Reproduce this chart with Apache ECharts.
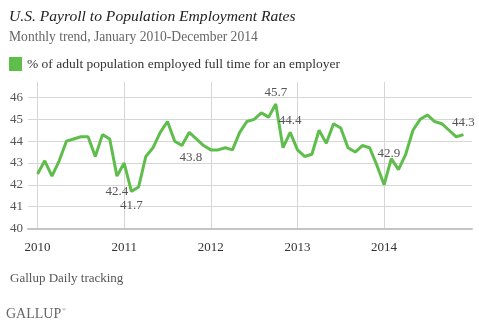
<!DOCTYPE html>
<html>
<head>
<meta charset="utf-8">
<script src="https://cdn.jsdelivr.net/npm/echarts@6/dist/echarts.min.js"></script>
<style>
html,body{margin:0;padding:0;background:#fff;}
#chart{width:479px;height:324px;}
</style>
</head>
<body>
<div id="chart"></div>
<script>
// Monthly values, January 2010 - December 2014 (index 0 = Jan 2010)
var values = [
  42.5, 43.1, 42.4, 43.1, 44.0, 44.1, 44.2, 44.2, 43.3, 44.3, 44.1, 42.4,
  43.0, 41.7, 41.9, 43.3, 43.7, 44.4, 44.9, 44.0, 43.8, 44.4, 44.1, 43.8,
  43.6, 43.6, 43.7, 43.6, 44.4, 44.9, 45.0, 45.3, 45.1, 45.7, 43.7, 44.4,
  43.6, 43.3, 43.4, 44.5, 43.9, 44.8, 44.6, 43.7, 43.5, 43.8, 43.7, 42.9,
  42.0, 43.2, 42.7, 43.4, 44.5, 45.0, 45.2, 44.9, 44.8, 44.5, 44.2, 44.3
];
var yearLabels = ['2010', '2011', '2012', '2013', '2014'];
var yearTicks = [0, 12, 24, 36, 48];
var yTicks = [40, 41, 42, 43, 44, 45, 46];
var labeledIdx = [11, 13, 20, 33, 35, 47, 59];

var seriesName = '% of adult population employed full time for an employer';
var serif = '"Liberation Serif", "DejaVu Serif", serif';
var green = '#5fbe4b';

// label placement (style only)
var labelOffsets = {
  11: [0, 15], 13: [0, 14], 20: [9, 12], 33: [0, -11.5],
  35: [0, -11.5], 47: [12, -12], 59: [0, -12.5]
};

var data = values.map(function (v, i) {
  var item = { value: [i, v] };
  if (labeledIdx.indexOf(i) >= 0) {
    item.label = {
      show: true,
      position: 'inside',
      offset: labelOffsets[i],
      formatter: function (p) { return p.value[1].toFixed(1); },
      color: '#555',
      fontFamily: serif,
      fontSize: 13
    };
  }
  return item;
});

var chart = echarts.init(document.getElementById('chart'), null, { renderer: 'canvas' });
chart.setOption({
  animation: false,
  backgroundColor: '#fff',
  title: {
    text: 'U.S. Payroll to Population Employment Rates',
    subtext: 'Monthly trend, January 2010-December 2014',
    left: 4,
    top: 4,
    itemGap: 5,
    textStyle: { fontFamily: serif, fontStyle: 'italic', fontWeight: 'normal', fontSize: 15.6, color: '#222' },
    subtextStyle: { fontFamily: serif, fontSize: 13.6, color: '#666' }
  },
  legend: {
    left: 4,
    top: 52,
    icon: 'rect',
    itemWidth: 13,
    itemHeight: 14,
    selectedMode: false,
    data: [seriesName],
    textStyle: { fontFamily: serif, fontSize: 13.5, color: '#333' }
  },
  grid: { left: 28, right: 7, top: 82, bottom: 95.5, containLabel: false },
  xAxis: {
    type: 'value',
    min: -1.32,
    max: 60.18,
    axisLine: { show: true, lineStyle: { color: '#c4c4c4', width: 2 } },
    axisTick: { show: false, customValues: yearTicks },
    axisLabel: {
      customValues: yearTicks,
      formatter: function (v) { return yearLabels[yearTicks.indexOf(v)]; },
      fontFamily: serif, fontSize: 13, color: '#333', margin: 13
    },
    splitLine: { show: true, lineStyle: { color: '#d6d6d6', width: 1 } }
  },
  yAxis: {
    type: 'value',
    min: 40,
    max: 46.71,
    axisLine: { show: false },
    axisTick: { show: false, customValues: yTicks },
    axisLabel: {
      customValues: yTicks,
      fontFamily: serif, fontSize: 13, color: '#555', margin: 5
    },
    splitLine: { show: true, lineStyle: { color: '#d6d6d6', width: 1 } }
  },
  series: [{
    name: seriesName,
    type: 'line',
    data: data,
    showSymbol: true,
    symbol: 'circle',
    symbolSize: 0.1,
    itemStyle: { color: green },
    lineStyle: { color: green, width: 3 },
    z: 5
  }],
  graphic: [
    {
      type: 'text', left: 10, top: 272,
      style: { text: 'Gallup Daily tracking', fontFamily: serif, fontSize: 13, fill: '#555' }
    },
    {
      type: 'text', left: 6, top: 307,
      style: { text: 'GALLUP', fontFamily: serif, fontSize: 14, fill: '#666' }
    },
    {
      type: 'text', left: 62, top: 307,
      style: { text: '\u00ae', fontFamily: serif, fontSize: 5, fill: '#666' }
    }
  ]
});
</script>
</body>
</html>
